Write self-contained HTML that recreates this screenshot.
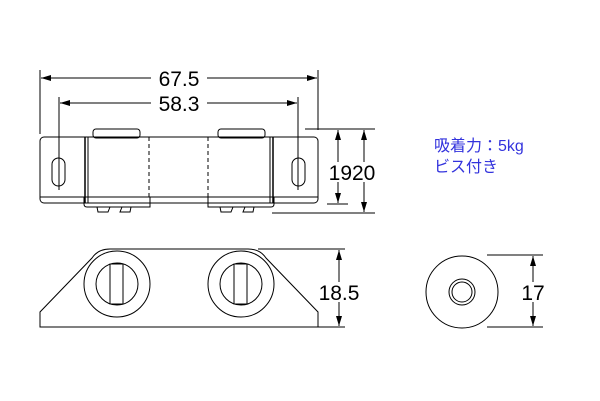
<!DOCTYPE html>
<html><head><meta charset="utf-8"><style>html,body{margin:0;padding:0;background:#fff}svg{display:block}</style></head><body>
<svg width="600" height="401" viewBox="0 0 600 401" xmlns="http://www.w3.org/2000/svg">
<defs>
<marker id="a" markerWidth="10" markerHeight="6" refX="10" refY="3" orient="auto-start-reverse" markerUnits="userSpaceOnUse"><path d="M0,0 L10,3 L0,6 Z" fill="#000"/></marker>
</defs>
<g fill="none" stroke="#000" stroke-width="1">
<rect x="93" y="129" width="47" height="9" rx="3" fill="#fff"/>
<rect x="218" y="129" width="47" height="9" rx="3" fill="#fff"/>
<path d="M84,197 V204 Q84,207 87,207 H150 V197"/>
<path d="M208,197 V207 H271 Q274,207 274,204 V197"/>
<path d="M97,207 l1,5 h10 l2,-5 M122,207 l-2,5 h10 l1,-5 M220,207 l1,5 h10 l2,-5 M245,207 l-2,5 h10 l1,-5"/>
<rect x="40" y="137" width="278" height="66" rx="4"/>
<line x1="40" y1="197" x2="318" y2="197"/>
<line x1="85" y1="137" x2="85" y2="203" stroke-width="1.5"/><line x1="88" y1="137" x2="88" y2="203"/>
<line x1="270" y1="137" x2="270" y2="203"/><line x1="273" y1="137" x2="273" y2="203" stroke-width="1.5"/>
<line x1="149" y1="137" x2="149" y2="197" stroke-dasharray="4,3"/>
<line x1="208" y1="137" x2="208" y2="197" stroke-dasharray="4,3"/>
<rect x="52" y="158" width="13" height="28" rx="6.5"/>
<rect x="292" y="158" width="13" height="28" rx="6.5"/>
<line x1="40" y1="70" x2="40" y2="134"/><line x1="318" y1="70" x2="318" y2="130"/>
<line x1="41" y1="78" x2="317" y2="78" marker-start="url(#a)" marker-end="url(#a)"/>
<line x1="59" y1="97" x2="59" y2="190"/><line x1="298" y1="97" x2="298" y2="190"/>
<line x1="60" y1="103" x2="297" y2="103" marker-start="url(#a)" marker-end="url(#a)"/>
<line x1="305" y1="129" x2="375" y2="129"/>
<line x1="327" y1="204" x2="348" y2="204"/><line x1="272" y1="213" x2="375" y2="213"/>
<line x1="338" y1="130" x2="338" y2="203" marker-start="url(#a)" marker-end="url(#a)"/>
<line x1="364" y1="130" x2="364" y2="212" marker-start="url(#a)" marker-end="url(#a)"/>
<path d="M40,327 V312 L92,258 Q98,249 110,249 H248 Q260,249 266,258 L318,312 V327 Z"/>
<circle cx="117" cy="284" r="33"/><circle cx="117" cy="284" r="21"/>
<rect x="110" y="264" width="13" height="40"/>
<circle cx="241" cy="284" r="33"/><circle cx="241" cy="284" r="21"/>
<rect x="234" y="264" width="13" height="40"/>
<line x1="258" y1="249" x2="345" y2="249"/><line x1="318" y1="327" x2="345" y2="327"/>
<line x1="339" y1="250" x2="339" y2="326" marker-start="url(#a)" marker-end="url(#a)"/>
<circle cx="462" cy="292" r="36"/><circle cx="462" cy="292" r="13"/><circle cx="462" cy="292" r="10"/>
<line x1="487" y1="255" x2="543" y2="255"/><line x1="487" y1="327" x2="543" y2="327"/>
<line x1="533" y1="256" x2="533" y2="326" marker-start="url(#a)" marker-end="url(#a)"/>
</g>
<g font-family="Liberation Sans, sans-serif" font-size="21" text-anchor="middle" fill="#000">
<rect x="151" y="68" width="56" height="20" fill="#fff"/><text x="179" y="86">67.5</text>
<rect x="151" y="93" width="56" height="20" fill="#fff"/><text x="179" y="111">58.3</text>
<rect x="327" y="162" width="50" height="20" fill="#fff"/><text x="352" y="180">1920</text>
<rect x="316" y="282" width="47" height="20" fill="#fff"/><text x="339" y="300">18.5</text>
<rect x="520" y="282" width="26" height="20" fill="#fff"/><text x="533" y="300">17</text>
</g>
<g font-family="Liberation Sans, 'Noto Sans CJK JP', sans-serif" font-size="16" fill="#3333dd">
<text x="434" y="151">吸着力：5kg</text>
<text x="434" y="172">ビス付き</text>
</g>
</svg>
</body></html>
